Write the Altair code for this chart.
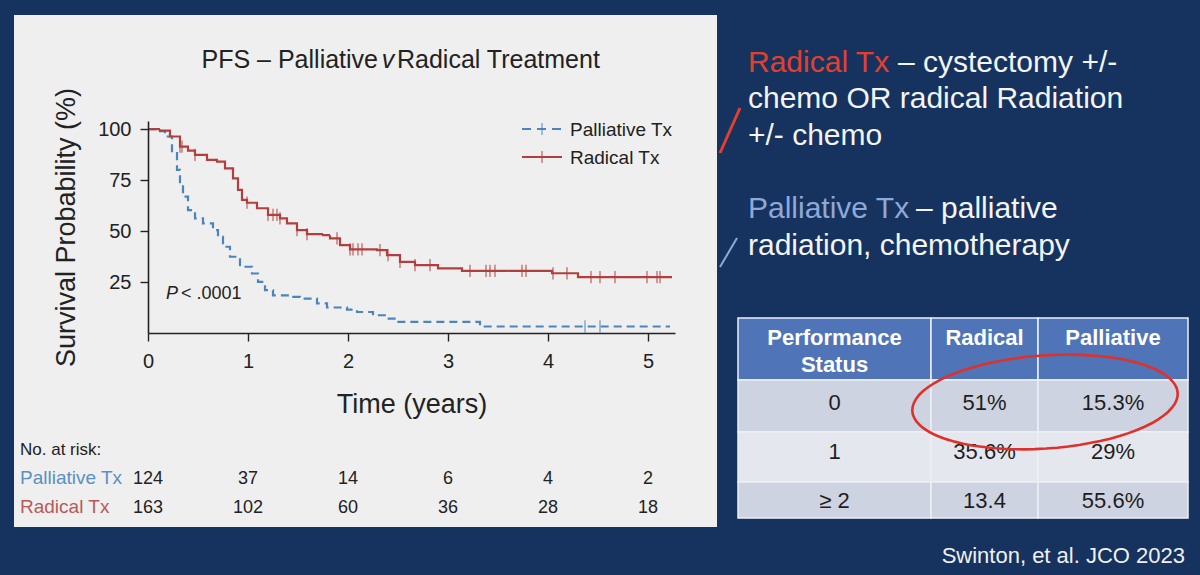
import math
import altair as alt
import pandas as pd

# ---------------- data ----------------
chart_title_parts = ["PFS – Palliative", "v", "Radical Treatment"]
groups = ["Palliative Tx", "Radical Tx"]

radical_time = [0, 0.12, 0.22, 0.32, 0.40, 0.47, 0.59, 0.69, 0.77, 0.85, 0.90, 0.94, 0.99,
                1.09, 1.20, 1.32, 1.39, 1.49, 1.59, 1.74, 1.82, 1.92, 2.02, 2.29, 2.39, 2.52,
                2.67, 2.90, 3.14, 4.04, 4.30, 5.24]
radical_surv = [100, 99.3, 96.4, 91.4, 89.5, 87.4, 84.9, 84.1, 80.8, 75.9, 70.2, 65.3, 63.9,
                61.2, 57.9, 56.2, 53.8, 50.5, 48.5, 48.0, 46.4, 43.1, 41.0, 40.7, 38.2, 34.9,
                33.3, 31.7, 30.5, 29.3, 27.4, 27.4]
palliative_time = [0, 0.12, 0.17, 0.24, 0.29, 0.32, 0.35, 0.40, 0.47, 0.55, 0.65, 0.70, 0.75,
                   0.82, 0.92, 1.04, 1.10, 1.17, 1.25, 1.42, 1.52, 1.69, 1.79, 1.99, 2.09, 2.25,
                   2.39, 2.49, 3.32, 5.22]
palliative_surv = [100, 99.0, 96.4, 88.2, 80.0, 73.4, 66.9, 60.3, 56.2, 53.8, 50.5, 47.2, 42.3,
                   37.4, 32.5, 29.2, 25.1, 21.0, 18.5, 17.7, 16.9, 14.5, 12.5, 11.5, 10.3, 8.7,
                   7.1, 5.5, 3.2, 3.2]
radical_censor = [0.32, 0.34, 0.47, 0.99, 1.20, 1.25, 1.29, 1.32, 1.49, 1.59, 1.89, 2.02, 2.05,
                  2.10, 2.14, 2.32, 2.40, 2.52, 2.67, 2.82, 3.22, 3.38, 3.42, 3.47, 3.74, 3.78,
                  4.05, 4.19, 4.43, 4.52, 4.67, 4.99, 5.09, 5.12]
palliative_censor = [4.37, 4.52]

x_ticks = [0, 1, 2, 3, 4, 5]
y_ticks = [25, 50, 75, 100]
risk_years = [0, 1, 2, 3, 4, 5]
risk_palliative = [124, 37, 14, 6, 4, 2]
risk_radical = [163, 102, 60, 36, 28, 18]

table_header_lines = [["Performance", "Status"], ["Radical"], ["Palliative"]]
ps_levels = ["0", "1", "≥ 2"]
radical_pct = ["51%", "35.6%", "13.4"]
palliative_pct = ["15.3%", "29%", "55.6%"]

radical_desc = ["– cystectomy +/-", "chemo OR radical Radiation", "+/- chemo"]
palliative_desc = ["– palliative", "radiation, chemotherapy"]
citation = "Swinton, et al. JCO 2023"

# ---------------- style / layout ----------------
W, H = 1200, 575
FONT = "Liberation Sans"
NAVY = "#163360"
PANEL = "#efefef"
INK = "#222222"
BLUE = "#4a86bd"
RED = "#b23f3d"
RISK_BLUE = "#5b90c4"
RISK_RED = "#b85a5a"
SLIDE_RED = "#e2402e"
SLIDE_BLUE = "#8fa8d8"
HEAD_BLUE = "#4f74b8"
ROW_DARK = "#cdd3e0"
ROW_LIGHT = "#e4e7ee"

X0, X1 = 148, 675      # pixel span of the time axis
Y0, Y1 = 333, 121      # pixel span of the survival axis
KM_X = alt.Scale(domain=[0, 5.27], range=[X0, X1], nice=False, zero=False)
KM_Y = alt.Scale(domain=[0, 104], range=[Y0, Y1], nice=False, zero=False)
PX = alt.Scale(domain=[0, W], range=[0, W], nice=False, zero=False)
PY = alt.Scale(domain=[0, H], range=[0, H], nice=False, zero=False)


def step_value(times, surv, t):
    v = surv[0]
    for ti, si in zip(times, surv):
        if ti <= t:
            v = si
        else:
            break
    return v


def px_text(rows, **kw):
    opts = dict(font=FONT, baseline="alphabetic")
    opts.update(kw)
    df = pd.DataFrame(rows, columns=["x", "y", "t"])
    return alt.Chart(df).mark_text(**opts).encode(
        x=alt.X("x:Q", scale=PX, axis=None),
        y=alt.Y("y:Q", scale=PY, axis=None),
        text="t:N")


def px_rule(rows, **kw):
    df = pd.DataFrame(rows, columns=["x", "y", "x2", "y2"])
    return alt.Chart(df).mark_rule(**kw).encode(
        x=alt.X("x:Q", scale=PX, axis=None), x2="x2:Q",
        y=alt.Y("y:Q", scale=PY, axis=None), y2="y2:Q")


layers = []

# light panel behind the survival plot
panel = pd.DataFrame([[14, 15, 717, 527]], columns=["x", "y", "x2", "y2"])
layers.append(alt.Chart(panel).mark_rect(color=PANEL).encode(
    x=alt.X("x:Q", scale=PX, axis=None), x2="x2:Q",
    y=alt.Y("y:Q", scale=PY, axis=None), y2="y2:Q"))

# ---------------- Kaplan-Meier curves ----------------
km_rows = []
for g, ts, ss in [(groups[0], palliative_time, palliative_surv),
                  (groups[1], radical_time, radical_surv)]:
    for t, s in zip(ts, ss):
        km_rows.append({"t": t, "s": s, "g": g})
km_df = pd.DataFrame(km_rows)

x_axis = alt.Axis(values=x_ticks, orient="bottom", offset=-(H - Y0), title="Time (years)",
                  grid=False, format="d", domainColor=INK, domainWidth=1.6, tickColor=INK,
                  tickWidth=1.4, tickSize=8, labelFont=FONT, labelFontSize=20, labelColor=INK,
                  labelPadding=10, labelFlush=False, titleFont=FONT, titleFontSize=27,
                  titleFontWeight="normal", titleColor=INK, titlePadding=20, zindex=2)
y_axis = alt.Axis(values=y_ticks, orient="left", offset=-X0, title="Survival Probability (%)",
                  grid=False, format="d", domainColor=INK, domainWidth=1.6, tickColor=INK,
                  tickWidth=1.4, tickSize=8, labelFont=FONT, labelFontSize=20, labelColor=INK,
                  labelPadding=9, titleFont=FONT, titleFontSize=27, titleFontWeight="normal",
                  titleColor=INK, titlePadding=17, zindex=2)

color_scale = alt.Scale(domain=groups, range=[BLUE, RED])
layers.append(alt.Chart(km_df).mark_line(interpolate="step-after", strokeWidth=2.2).encode(
    x=alt.X("t:Q", scale=KM_X, axis=x_axis),
    y=alt.Y("s:Q", scale=KM_Y, axis=y_axis),
    color=alt.Color("g:N", scale=color_scale, legend=None),
    strokeDash=alt.StrokeDash("g:N", scale=alt.Scale(domain=groups, range=[[8, 5], [1, 0]]),
                              legend=None)))

cens_rows = []
for g, cs, ts, ss in [(groups[0], palliative_censor, palliative_time, palliative_surv),
                      (groups[1], radical_censor, radical_time, radical_surv)]:
    for c in cs:
        cens_rows.append({"t": c, "s": step_value(ts, ss, c), "g": g})
cens_df = pd.DataFrame(cens_rows)
layers.append(alt.Chart(cens_df).mark_point(shape="M0,-1L0,1", size=150, filled=False,
                                            strokeWidth=1.4).encode(
    x=alt.X("t:Q", scale=KM_X, axis=None),
    y=alt.Y("s:Q", scale=KM_Y, axis=None),
    color=alt.Color("g:N", scale=color_scale, legend=None)))

# legend (drawn by hand)
layers.append(px_rule([[522, 129, 562, 129]], color=BLUE, strokeWidth=2.2, strokeDash=[9, 6]))
layers.append(px_rule([[522, 157, 562, 157]], color=RED, strokeWidth=2.2))
leg_pts = pd.DataFrame({"x": [542, 542], "y": [129, 157], "g": groups})
layers.append(alt.Chart(leg_pts).mark_point(shape="M0,-1L0,1", size=150, filled=False,
                                            strokeWidth=1.4).encode(
    x=alt.X("x:Q", scale=PX, axis=None), y=alt.Y("y:Q", scale=PY, axis=None),
    color=alt.Color("g:N", scale=color_scale, legend=None)))
layers.append(px_text([[570, 136, groups[0]], [570, 164, groups[1]]],
                      align="left", fontSize=19, color=INK))

# title
layers.append(px_text([[378, 68, chart_title_parts[0]]], align="right", fontSize=25, color=INK))
layers.append(px_text([[388, 68, chart_title_parts[1]]], align="center", fontSize=25,
                      fontStyle="italic", color=INK))
layers.append(px_text([[397, 68, chart_title_parts[2]]], align="left", fontSize=25, color=INK))

# p value
layers.append(px_text([[166, 299, "P"]], align="left", fontSize=18, fontStyle="italic", color=INK))
layers.append(px_text([[181, 299, "< .0001"]], align="left", fontSize=18, color=INK))

# number at risk
layers.append(px_text([[20, 455, "No. at risk:"]], align="left", fontSize=17, color=INK))
layers.append(px_text([[20, 484, groups[0]]], align="left", fontSize=19, color=RISK_BLUE))
layers.append(px_text([[20, 513, groups[1]]], align="left", fontSize=19, color=RISK_RED))
risk_df = pd.DataFrame({
    "yr": risk_years * 2,
    "row": [484] * len(risk_years) + [513] * len(risk_years),
    "n": [str(v) for v in risk_palliative + risk_radical]})
layers.append(alt.Chart(risk_df).mark_text(font=FONT, fontSize=18, color=INK, align="center",
                                           baseline="alphabetic").encode(
    x=alt.X("yr:Q", scale=KM_X, axis=None),
    y=alt.Y("row:Q", scale=PY, axis=None),
    text="n:N"))

# ---------------- right side text ----------------
layers.append(px_rule([[720, 153, 740, 108]], color=SLIDE_RED, strokeWidth=3))
layers.append(px_rule([[720, 267, 737, 238]], color=SLIDE_BLUE, strokeWidth=2))
layers.append(px_text([[748, 72, groups[1]]], align="left", fontSize=30, color=SLIDE_RED))
layers.append(px_text([[898, 72, radical_desc[0]], [748, 108, radical_desc[1]],
                       [748, 145, radical_desc[2]]], align="left", fontSize=30, color="#f4f4f4"))
layers.append(px_text([[748, 218, groups[0]]], align="left", fontSize=30, color=SLIDE_BLUE))
layers.append(px_text([[916, 218, palliative_desc[0]], [748, 255, palliative_desc[1]]],
                      align="left", fontSize=30, color="#f4f4f4"))

# ---------------- table ----------------
col_edges = [738, 931, 1038, 1188]
row_edges = [318, 380, 432, 482, 518]
row_fills = [HEAD_BLUE, ROW_DARK, ROW_LIGHT, ROW_DARK]
cells = []
for r in range(4):
    for c in range(3):
        cells.append({"x": col_edges[c], "x2": col_edges[c + 1], "y": row_edges[r],
                      "y2": row_edges[r + 1], "f": row_fills[r]})
layers.append(alt.Chart(pd.DataFrame(cells)).mark_rect(stroke="#eef0f5", strokeWidth=1.5).encode(
    x=alt.X("x:Q", scale=PX, axis=None), x2="x2:Q",
    y=alt.Y("y:Q", scale=PY, axis=None), y2="y2:Q",
    fill=alt.Fill("f:N", scale=None)))

centers = [(col_edges[i] + col_edges[i + 1]) / 2 for i in range(3)]
head_rows = []
for c, lines in enumerate(table_header_lines):
    for k, line in enumerate(lines):
        head_rows.append([centers[c], 345 + 27 * k, line])
layers.append(px_text(head_rows, align="center", fontSize=22, fontWeight="bold", color="white"))
body_base = [410, 459, 508]
body_rows = []
for r in range(3):
    body_rows += [[centers[0], body_base[r], ps_levels[r]],
                  [centers[1], body_base[r], radical_pct[r]],
                  [centers[2], body_base[r], palliative_pct[r]]]
layers.append(px_text(body_rows, align="center", fontSize=22, color="#1e1e1e"))

# hand-drawn ellipse
def ellipse_path(ratio, tilt_deg, start=2.4, sweep=2 * math.pi + 0.45, n=80):
    a = math.radians(tilt_deg)
    pts = []
    for k in range(n + 1):
        th = start + sweep * k / n
        x, y = math.cos(th), ratio * math.sin(th)
        pts.append((x * math.cos(a) - y * math.sin(a), x * math.sin(a) + y * math.cos(a)))
    return "M" + "L".join(f"{px:.3f},{py:.3f}" for px, py in pts)

ell = pd.DataFrame({"x": [1045], "y": [402]})
layers.append(alt.Chart(ell).mark_point(shape=ellipse_path(0.35, -4), size=(2 * 133) ** 2,
                                        filled=False, stroke="#e0302a", strokeWidth=2.6,
                                        opacity=1).encode(
    x=alt.X("x:Q", scale=PX, axis=None), y=alt.Y("y:Q", scale=PY, axis=None)))

# citation
layers.append(px_text([[1185, 563, citation]], align="right", fontSize=22, color="#f0f0f0"))

chart = alt.layer(*layers).resolve_scale(x="independent", y="independent").properties(
    width=W, height=H, autosize=alt.AutoSizeParams(type="none"), padding=0, background=NAVY
).configure_view(stroke=None)

chart.save("out.html", embed_options={"renderer": "svg", "actions": False})
